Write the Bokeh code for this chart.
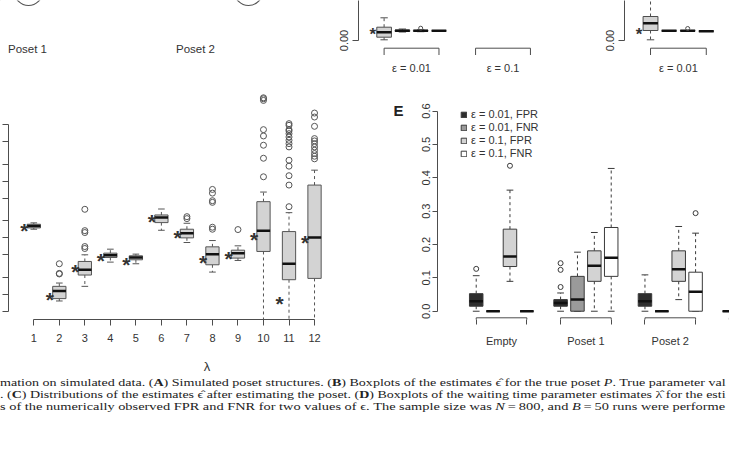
from bokeh.plotting import figure
from bokeh.models import Range1d, FixedTicker, Legend, LegendItem, Div
from bokeh.layouts import column, row
from bokeh.embed import file_html
from bokeh.resources import INLINE

SANS = "Liberation Sans"
TXT = "#333333"
LINE = "#4d4d4d"

# ---------------- A: poset structures (cropped) ----------------
poset_labels = ["Poset 1", "Poset 2"]
poset_label_x = [27, 195]
poset_label_y = [48, 48]
node_x = [-12, 28, 248]
node_y = [-7, -9, -9]
node_r = [13, 14, 14]

# ---------------- B / C: epsilon estimates (bottom of panels) ----------------
eps_groups = ["ε = 0.01", "ε = 0.1"]
eps_true_B = [0.01]
b_pos = [1, 2, 3, 4]
b_q1 = [0.0033, 0.0090, 0.0092, 0.0097]
b_med = [0.0083, 0.0097, 0.0097, 0.0097]
b_q3 = [0.0133, 0.0105, 0.0102, 0.0097]
b_lo = [0.0007, 0.0085, 0.0088, 0.0097]
b_hi = [0.0227, 0.0115, 0.0106, 0.0097]
b_out_pos = [3]
b_out_val = [0.0123]

eps_groups_C = ["ε = 0.01"]
eps_true_C = [0.01]
c_pos = [1, 2, 3, 4]
c_q1 = [0.0100, 0.0097, 0.0097, 0.0093]
c_med = [0.0173, 0.0097, 0.0097, 0.0093]
c_q3 = [0.0240, 0.0097, 0.0100, 0.0093]
c_lo = [0.0007, 0.0097, 0.0095, 0.0093]
c_hi = [0.0700, 0.0097, 0.0100, 0.0093]
c_out_pos = [3]
c_out_val = [0.0120]

# ---------------- D: waiting time estimates (log scale) ----------------
lam_idx = [1, 2, 3, 4, 5, 6, 7, 8, 9, 10, 11, 12]
lam_true = [16.2, 1.01, 3.11, 4.87, 4.19, 23.4, 12.6, 4.55, 5.35, 11.3, 0.83, 10.1]
lam_q1 = [14.97, 0.837, 2.19, 4.49, 4.08, 18.6, 9.98, 3.33, 4.37, 5.73, 1.81, 1.91]
lam_med = [16.25, 1.14, 2.72, 4.93, 4.49, 22.8, 12.05, 5.14, 5.35, 13.3, 3.47, 10.1]
lam_q3 = [17.4, 1.38, 3.81, 5.35, 4.80, 25.4, 14.2, 6.92, 6.04, 43.7, 12.9, 86.0]
lam_lo = [14.2, 0.76, 1.38, 3.71, 3.47, 13.6, 8.26, 2.47, 3.97, 0.05, 0.05, 0.05]
lam_hi = [18.4, 1.58, 5.0, 6.29, 5.14, 32.4, 18.1, 8.95, 7.21, 64.7, 27.9, 158.0]
lam_out_pos = [2, 2, 2,
               3, 3, 3, 3, 3,
               7, 7,
               8, 8, 8, 8, 8, 8,
               9,
               10, 10, 10, 10, 10, 10, 10, 10,
               11, 11, 11, 11, 11, 11, 11, 11, 11, 11, 11, 11, 11, 11,
               12, 12, 12, 12, 12, 12, 12, 12, 12, 12, 12]
lam_out_val = [3.47, 2.34, 2.29,
               32.0, 13.4, 12.4, 7.0, 6.47,
               23.7, 21.9,
               72.0, 62.0, 45.5, 42.5, 15.4, 14.2,
               14.0,
               3030, 2910, 2720, 825, 638, 437, 257, 120.6,
               1054, 984, 825, 782, 701, 612, 535, 467, 408, 237, 186, 126, 86, 35.6,
               1625, 1380, 945, 573, 521, 467, 408, 356, 311, 279, 251]
lam_ticks = [0.5, 1, 2, 5, 10, 20, 50, 100, 200, 500, 1000]

# ---------------- E: FPR / FNR ----------------
e_groups = ["Empty", "Poset 1", "Poset 2"]
e_series = ["ε = 0.01, FPR", "ε = 0.01, FNR", "ε = 0.1, FPR", "ε = 0.1, FNR"]
e_colors = ["#2e2e2e", "#9a9a9a", "#d3d3d3", "#ffffff"]
fpr01_q1 = [0.015, 0.015, 0.015, 0.0]
fpr01_med = [0.030, 0.025, 0.030, 0.0]
fpr01_q3 = [0.0527, 0.0348, 0.0527, 0.0]
fpr01_lo = [0.0, 0.0, 0.0, 0.0]
fpr01_hi = [0.1065, 0.0547, 0.109, 0.0]
fnr01_q1 = [0.0, 0.0, 0.0]
fnr01_med = [0.0, 0.0348, 0.0]
fnr01_q3 = [0.0, 0.1045, 0.0]
fnr01_lo = [0.0, 0.0, 0.0]
fnr01_hi = [0.0, 0.177, 0.0]
fpr1_q1 = [0.134, 0.0896, 0.0896]
fpr1_med = [0.164, 0.136, 0.126]
fpr1_q3 = [0.246, 0.181, 0.181]
fpr1_lo = [0.0896, 0.0, 0.0348]
fpr1_hi = [0.363, 0.236, 0.254]
fnr1_q1 = [0.0, 0.1045, 0.0]
fnr1_med = [0.0, 0.160, 0.0587]
fnr1_q3 = [0.0, 0.251, 0.117]
fnr1_lo = [0.0, 0.0, 0.0]
fnr1_hi = [0.0, 0.428, 0.234]
e_out_series = [0, 0, 0, 0, 2, 3]
e_out_group = [0, 1, 1, 1, 0, 2]
e_out_val = [0.127, 0.0726, 0.124, 0.144, 0.436, 0.294]
e_ticks = [0.0, 0.1, 0.2, 0.3, 0.4, 0.5, 0.6]

caption_lines = [
    ('mation on simulated data. (<b>A</b>) Simulated poset structures. (<b>B</b>) Boxplots '
     'of the estimates ϵ̂ for the true poset <i>P</i>. True parameter val', 1.278),
    ('. (<b>C</b>) Distributions of the estimates ϵ̂ after estimating the poset. (<b>D</b>) '
     'Boxplots of the waiting time parameter estimates λ̂ for the esti', 1.27),
    ('s of the numerically observed FPR and FNR for two values of ϵ. The sample size was '
     '<i>N</i>&thinsp;=&thinsp;800, and <i>B</i>&thinsp;=&thinsp;50 runs were performe', 1.307),
]


def base_fig(**kw):
    p = figure(output_backend="svg", toolbar_location=None, **kw)
    p.grid.visible = False
    p.outline_line_color = None
    p.background_fill_color = "white"
    p.border_fill_color = "white"
    return p


def draw_boxes(p, pos, q1, med, q3, lo, hi, width, fill, line=LINE, cap=0.5,
               med_w=2.5, dash="3 3"):
    half = width / 2.0
    cw = width * cap / 2.0
    p.segment(x0=pos, x1=pos, y0=q3, y1=hi, line_color=line, line_dash=dash, line_width=1)
    p.segment(x0=pos, x1=pos, y0=q1, y1=lo, line_color=line, line_dash=dash, line_width=1)
    p.segment(x0=[x - cw for x in pos], x1=[x + cw for x in pos], y0=hi, y1=hi,
              line_color=line, line_width=1)
    p.segment(x0=[x - cw for x in pos], x1=[x + cw for x in pos], y0=lo, y1=lo,
              line_color=line, line_width=1)
    r = p.vbar(x=pos, width=width, bottom=q1, top=q3, fill_color=fill,
               line_color=line, line_width=1)
    p.segment(x0=[x - half for x in pos], x1=[x + half for x in pos], y0=med, y1=med,
              line_color="#111111", line_width=med_w)
    return r


def stars(p, xs, ys, size):
    p.text(x=xs, y=ys, text=["*"] * len(xs), text_align="center", text_baseline="middle",
           y_offset=round(size * 0.22), text_font={"value": SANS},
           text_font_size=f"{size}px", text_font_style="bold", text_color=TXT)


def style_axis(ax, size="11px"):
    ax.major_label_text_font = SANS
    ax.major_label_text_font_size = size
    ax.major_label_text_color = TXT
    ax.axis_line_color = LINE
    ax.major_tick_line_color = LINE
    ax.minor_tick_line_color = None
    ax.major_tick_in = 0


def brackets(p, starts, ends, ytop, ybot):
    n = len(starts)
    p.segment(x0=starts, x1=ends, y0=[ytop] * n, y1=[ytop] * n,
              line_color=LINE, line_width=1)
    p.segment(x0=starts + ends, x1=starts + ends, y0=[ytop] * (2 * n),
              y1=[ybot] * (2 * n), line_color=LINE, line_width=1)


# ---------------- top row ----------------
pA = base_fig(width=330, height=78, x_range=Range1d(0, 330), y_range=Range1d(58, 0),
              min_border=0, min_border_bottom=20)
pA.axis.visible = False
pA.circle(x=node_x, y=node_y, radius=node_r, fill_color=None, line_color="#555555",
          line_width=1.2)
pA.text(x=poset_label_x, y=poset_label_y, text=poset_labels, text_align="center",
        text_baseline="middle", text_font={"value": SANS}, text_font_size="11.5px",
        text_color=TXT)


def eps_panel(width, left, pos, q1, med, q3, lo, hi, out_pos, out_val, truth, groups,
              x_end):
    p = base_fig(width=width, height=78, x_range=Range1d(-0.4, x_end),
                 y_range=Range1d(-0.018, 0.04), min_border_left=left, min_border_right=0,
                 min_border_top=0, min_border_bottom=20)
    draw_boxes(p, pos, q1, med, q3, lo, hi, 0.8, "#d3d3d3")
    p.scatter(x=out_pos, y=out_val, marker="circle", size=4, fill_color=None,
              line_color=LINE)
    stars(p, [pos[0] - 0.62] * len(truth), truth, 17)
    starts = [1 + 5 * g for g in range(len(groups))]
    ends = [4 + 5 * g for g in range(len(groups))]
    brackets(p, starts, ends, -0.0077, -0.0145)
    p.yaxis.ticker = FixedTicker(ticks=[0.0])
    p.yaxis.major_label_overrides = {0.0: "0.00"}
    p.yaxis.bounds = (0, 1)
    p.yaxis.major_label_orientation = "vertical"
    p.yaxis.major_tick_out = 6
    p.yaxis.major_label_standoff = 5
    style_axis(p.yaxis)
    centers = [(s + e) / 2 for s, e in zip(starts, ends)]
    p.xaxis.ticker = FixedTicker(ticks=centers)
    p.xaxis.major_label_overrides = {c: g for c, g in zip(centers, groups)}
    style_axis(p.xaxis)
    p.xaxis.axis_line_color = None
    p.xaxis.major_tick_line_color = None
    p.xaxis.major_tick_out = 0
    p.xaxis.major_label_standoff = 3
    return p


pB = eps_panel(270, 28, b_pos, b_q1, b_med, b_q3, b_lo, b_hi, b_out_pos, b_out_val,
               eps_true_B, eps_groups, 12.83)
pC = eps_panel(129, 24, c_pos, c_q1, c_med, c_q3, c_lo, c_hi, c_out_pos, c_out_val,
               eps_true_C, eps_groups_C, 5.25)

# ---------------- D ----------------
pD = base_fig(width=405, height=298, y_axis_type="log", x_range=Range1d(0.0086, 15.565),
              y_range=Range1d(0.357, 6650), min_border_left=8, min_border_right=0,
              min_border_top=0, min_border_bottom=56)
draw_boxes(pD, lam_idx, lam_q1, lam_med, lam_q3, lam_lo, lam_hi, 0.52, "#d3d3d3",
           line="#555555")
pD.scatter(x=lam_out_pos, y=lam_out_val, marker="circle", size=6, fill_color=None,
           line_color="#555555", line_width=1)
stars(pD, [i - 0.37 for i in lam_idx], lam_true, 21)
pD.yaxis.ticker = FixedTicker(ticks=lam_ticks)
pD.yaxis.bounds = (lam_ticks[0], lam_ticks[-1])
style_axis(pD.yaxis)
pD.yaxis.major_label_overrides = {t: "" for t in lam_ticks}
pD.yaxis.major_label_standoff = 0
pD.yaxis.major_tick_out = 6
pD.xaxis.ticker = FixedTicker(ticks=lam_idx)
pD.xaxis.bounds = (lam_idx[0], lam_idx[-1])
style_axis(pD.xaxis)
pD.xaxis.major_tick_out = 6
pD.xaxis.major_label_standoff = 8
pD.xaxis.axis_label = "λ"
pD.xaxis.axis_label_text_font = SANS
pD.xaxis.axis_label_text_font_style = "normal"
pD.xaxis.axis_label_text_font_size = "13px"
pD.xaxis.axis_label_text_color = TXT
pD.xaxis.axis_label_standoff = 14
# panel letter of E sits left of E's axis (inside D's drawing area)
pD.text(x=[15.29], y=[1811], text=["E"], text_align="center", text_baseline="middle",
        text_font={"value": SANS}, text_font_size="15px", text_font_style="bold",
        text_color="#222222")

# ---------------- E ----------------
pE = base_fig(width=324, height=298, x_range=Range1d(-1.294, 16.01),
              y_range=Range1d(-0.0248, 0.6976), min_border_left=32, min_border_right=0,
              min_border_top=0, min_border_bottom=56)
series_data = [
    (fpr01_q1, fpr01_med, fpr01_q3, fpr01_lo, fpr01_hi),
    (fnr01_q1, fnr01_med, fnr01_q3, fnr01_lo, fnr01_hi),
    (fpr1_q1, fpr1_med, fpr1_q3, fpr1_lo, fpr1_hi),
    (fnr1_q1, fnr1_med, fnr1_q3, fnr1_lo, fnr1_hi),
]
renderers = []
for s, (q1, med, q3, lo, hi) in enumerate(series_data):
    pos = [1 + s + 5 * g for g in range(len(q1))]
    renderers.append(draw_boxes(pE, pos, q1, med, q3, lo, hi, 0.8, e_colors[s],
                                line="#3a3a3a"))
pE.scatter(x=[1 + s + 5 * g for s, g in zip(e_out_series, e_out_group)], y=e_out_val,
           marker="circle", size=5, fill_color=None, line_color="#3a3a3a")
ng = len(fpr01_q1)
br_start = [1 + 5 * g for g in range(ng)]
br_end = [4 + 5 * g for g in range(ng)]
brackets(pE, br_start, br_end, -0.0197, -0.03)
pE.yaxis.ticker = FixedTicker(ticks=e_ticks)
pE.yaxis.bounds = (e_ticks[0], e_ticks[-1])
pE.yaxis.major_label_overrides = {t: f"{t:.1f}" for t in e_ticks}
pE.yaxis.major_label_orientation = "vertical"
style_axis(pE.yaxis)
pE.yaxis.major_tick_out = 5
pE.yaxis.major_label_standoff = 2
gcent = [2.5 + 5 * g for g in range(len(e_groups))]
pE.xaxis.ticker = FixedTicker(ticks=gcent, minor_ticks=br_start + br_end)
pE.xaxis.major_label_overrides = {c: g for c, g in zip(gcent, e_groups)}
style_axis(pE.xaxis)
pE.xaxis.axis_line_color = None
pE.xaxis.major_tick_line_color = None
pE.xaxis.major_tick_out = 0
pE.xaxis.minor_tick_line_color = LINE
pE.xaxis.minor_tick_in = 0
pE.xaxis.minor_tick_out = 5
pE.xaxis.major_label_standoff = 10
legend = Legend(items=[LegendItem(label=lab, renderers=[r]) for lab, r in
                       zip(e_series, renderers)],
                location=(23, 160), glyph_width=7, glyph_height=7, label_height=11,
                label_standoff=4, spacing=1, padding=0, margin=0,
                border_line_color=None, background_fill_alpha=0,
                label_text_font=SANS, label_text_font_size="11px",
                label_text_color=TXT)
pE.add_layout(legend)

# ---------------- caption ----------------
html = '<div style="overflow:hidden;width:729px;">' + "".join(
    f'<div style="height:12.2px;line-height:12.2px;white-space:nowrap;">'
    f'<span style="display:inline-block;transform-origin:0 0;transform:scaleX({k});">'
    f'{l}</span></div>' for l, k in caption_lines) + '</div>'
cap = Div(text=html, width=729, height=95, margin=0,
          styles={"font-family": "Liberation Serif", "font-size": "11px",
                  "color": "#222222", "white-space": "nowrap"})

layout = column(row(pA, pB, pC), row(pD, pE), cap)
open("out.html", "w").write(file_html(layout, INLINE))
